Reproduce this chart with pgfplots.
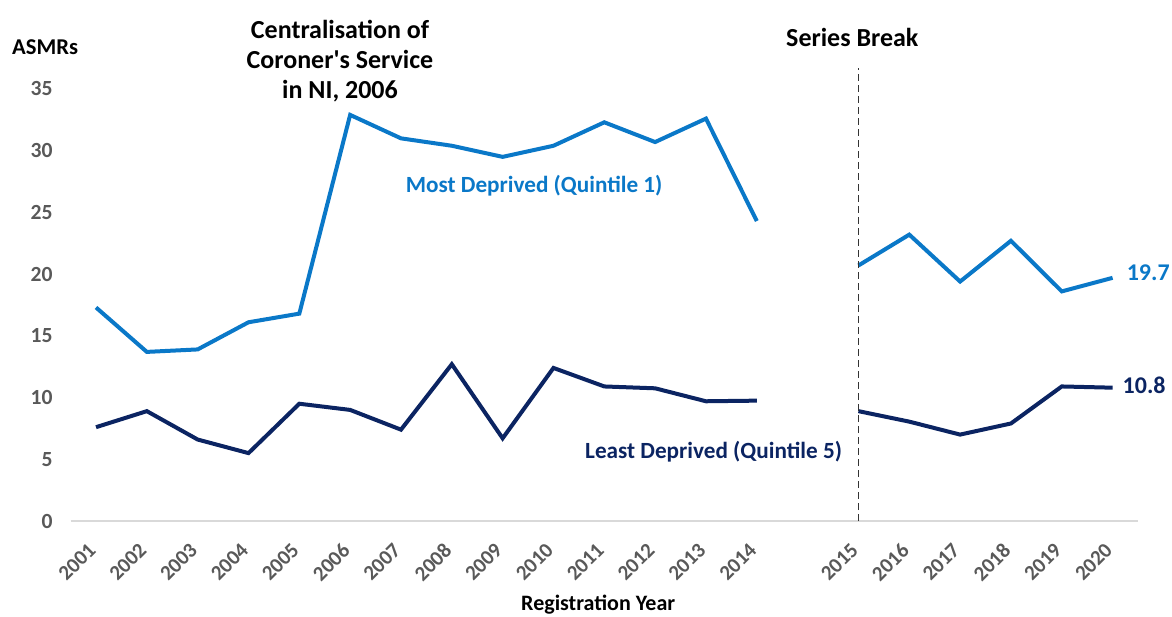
\documentclass[border=0pt]{standalone}
\usepackage{pgfplots}
\pgfplotsset{compat=1.18}
\usepackage{pgfplotstable}
\usepackage{fontspec}
\setmainfont{Carlito}
\definecolor{qblue}{HTML}{0A78C8}
\definecolor{qnavy}{HTML}{0B2462}
\definecolor{tickgray}{HTML}{595959}

\pgfplotstableread{
x y
0 17.3
1 13.7
2 13.9
3 16.1
4 16.8
5 32.9
6 31.0
7 30.4
8 29.5
9 30.4
10 32.3
11 30.7
12 32.6
13 24.3
14 nan
15 20.7
16 23.2
17 19.4
18 22.7
19 18.6
20 19.7
}\mostdep

\pgfplotstableread{
x y
0 7.6
1 8.9
2 6.6
3 5.5
4 9.5
5 9.0
6 7.4
7 12.7
8 6.7
9 12.4
10 10.9
11 10.75
12 9.7
13 9.75
14 nan
15 8.9
16 8.05
17 7.0
18 7.9
19 10.9
20 10.8
}\leastdep

\begin{document}
\begin{tikzpicture}
\path[use as bounding box] (-35.3pt,-47.5pt) rectangle (550.7pt,260.5pt);
\begin{axis}[
  at={(0,0)}, anchor=south west,
  width=533.7pt, height=226.5pt, scale only axis,
  xmin=-0.5, xmax=20.5, ymin=0, ymax=36.7,
  axis x line=bottom, axis y line=left,
  x axis line style={draw=black!15, line width=0.8pt, -},
  y axis line style={draw=none},
  xtick={0,1,2,3,4,5,6,7,8,9,10,11,12,13,15,16,17,18,19,20},
  xticklabels={2001,2002,2003,2004,2005,2006,2007,2008,2009,2010,2011,2012,2013,2014,2015,2016,2017,2018,2019,2020},
  ytick={0,5,10,15,20,25,30,35},
  major tick length=0,
  clip=false,
  unbounded coords=jump,
  /pgf/number format/assume math mode=true,
  xticklabel style={font=\fontsize{10.5}{12}\selectfont\bfseries, text=tickgray, xshift=0.5pt, yshift=-10.5pt, rotate=45, anchor=east},
  yticklabel style={font=\fontsize{10.8}{12}\selectfont\bfseries, text=tickgray, xshift=-5.5pt},
]
\addplot[qblue, line width=2pt] table[x=x,y=y] {\mostdep};
\addplot[qnavy, line width=2pt] table[x=x,y=y] {\leastdep};
\addplot[black!80, line width=0.6pt, dash pattern=on 3.5pt off 2pt] coordinates {(15,0) (15,36.7)};

\node[font=\fontsize{11.3}{13}\selectfont\bfseries] at (axis cs:-1.0,38.4) {ASMRs};
\node[font=\fontsize{13}{15}\selectfont\bfseries, align=center] at (axis cs:4.8,37.25) {Centralisation of\\Coroner\textquotesingle s Service\\in NI, 2006};
\node[font=\fontsize{13}{15}\selectfont\bfseries] at (axis cs:14.88,39.2) {Series Break};
\node[font=\fontsize{11.6}{13}\selectfont\bfseries, text=qblue] at (axis cs:8.62,27.2) {Most Deprived (Quintile 1)};
\node[font=\fontsize{11.6}{13}\selectfont\bfseries, text=qnavy] at (axis cs:12.15,5.6) {Least Deprived (Quintile 5)};
\node[font=\fontsize{12}{14}\selectfont\bfseries, text=qblue, anchor=west] at (axis cs:20.14,20.1) {19.7};
\node[font=\fontsize{12}{14}\selectfont\bfseries, text=qnavy, anchor=west] at (axis cs:20.06,11.0) {10.8};
\node[font=\fontsize{11}{13}\selectfont\bfseries] at (axis cs:9.88,-6.8) {Registration Year};
\end{axis}
\end{tikzpicture}
\end{document}
